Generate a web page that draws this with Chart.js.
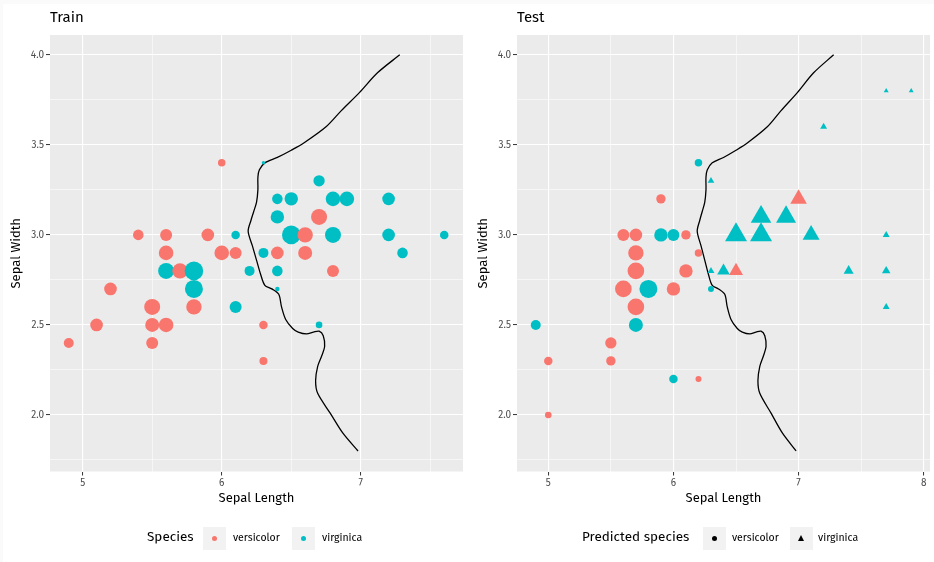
<!DOCTYPE html>
<html>
<head>
<meta charset="utf-8">
<script src="https://cdn.jsdelivr.net/npm/chart.js@4.4.1/dist/chart.umd.min.js"></script>
<style>
  body { margin: 0; background: #fafafa; font-family: "Fira Sans", "Open Sans", sans-serif; }
  #sheet { position: absolute; left: 3px; top: 4px; width: 931px; height: 558px; background: #fff; }
  canvas { position: absolute; top: 0; }
  .lg { position: absolute; white-space: nowrap; color: #000; line-height: 1; }
  .lg-title { font-size: 13.5px; }
  .lg-label { font-size: 10.5px; }
  .key { position: absolute; width: 23px; height: 23px; background: #f2f2f2; top: 527px; }
  .dot { position: absolute; left: 9px; top: 9px; width: 5px; height: 5px; border-radius: 50%; }
  .tri { position: absolute; left: 8px; top: 8px; width: 0; height: 0;
         border-left: 3.5px solid transparent; border-right: 3.5px solid transparent; border-bottom: 6px solid #000; }
</style>
</head>
<body>
<div id="sheet"></div>
<canvas id="train" width="467" height="562" style="left:0"></canvas>
<canvas id="test" width="467" height="562" style="left:467px"></canvas>

<div class="lg lg-title" style="left:147px;top:530px">Species</div>
<div class="key" style="left:203px"><div class="dot" style="background:#F8766D"></div></div>
<div class="lg lg-label" style="left:233px;top:533px">versicolor</div>
<div class="key" style="left:292px"><div class="dot" style="background:#00BFC4"></div></div>
<div class="lg lg-label" style="left:322px;top:533px">virginica</div>

<div class="lg lg-title" style="left:582px;top:530px">Predicted species</div>
<div class="key" style="left:703px"><div class="dot" style="background:#000"></div></div>
<div class="lg lg-label" style="left:732px;top:533px">versicolor</div>
<div class="key" style="left:790px"><div class="tri"></div></div>
<div class="lg lg-label" style="left:818px;top:533px">virginica</div>

<script>
// training set: sepal length / width, true species, point weight
var trainX = [6.0, 6.3, 6.7, 6.4, 6.5, 6.8, 6.9, 7.2, 6.4, 6.7, 5.4, 5.6, 5.9, 6.1, 6.5, 6.6, 6.8, 7.2, 7.6,
              5.6, 6.0, 6.1, 6.3, 6.4, 6.6, 7.3, 5.6, 5.7, 5.8, 6.2, 6.4, 6.8, 5.2, 5.8, 6.4, 5.5, 5.8, 6.1,
              5.1, 5.5, 5.6, 6.3, 6.7, 4.9, 5.5, 6.3];
var trainY = [3.4, 3.4, 3.3, 3.2, 3.2, 3.2, 3.2, 3.2, 3.1, 3.1, 3.0, 3.0, 3.0, 3.0, 3.0, 3.0, 3.0, 3.0, 3.0,
              2.9, 2.9, 2.9, 2.9, 2.9, 2.9, 2.9, 2.8, 2.8, 2.8, 2.8, 2.8, 2.8, 2.7, 2.7, 2.7, 2.6, 2.6, 2.6,
              2.5, 2.5, 2.5, 2.5, 2.5, 2.4, 2.4, 2.3];
var trainSpecies = ['versicolor', 'virginica', 'virginica', 'virginica', 'virginica', 'virginica', 'virginica',
                    'virginica', 'virginica', 'versicolor', 'versicolor', 'versicolor', 'versicolor', 'virginica',
                    'virginica', 'versicolor', 'virginica', 'virginica', 'virginica', 'versicolor', 'versicolor',
                    'versicolor', 'virginica', 'versicolor', 'versicolor', 'virginica', 'virginica', 'versicolor',
                    'virginica', 'virginica', 'virginica', 'versicolor', 'versicolor', 'virginica', 'virginica',
                    'versicolor', 'versicolor', 'virginica', 'versicolor', 'versicolor', 'versicolor', 'versicolor',
                    'virginica', 'versicolor', 'versicolor', 'versicolor'];
var trainWeight = [0.14, 0.03, 0.32, 0.28, 0.45, 0.53, 0.53, 0.40, 0.45, 0.64, 0.28, 0.36, 0.40, 0.18, 0.86,
                   0.59, 0.64, 0.40, 0.18, 0.53, 0.53, 0.36, 0.25, 0.40, 0.49, 0.28, 0.64, 0.59, 0.86, 0.25,
                   0.28, 0.36, 0.40, 0.81, 0.05, 0.64, 0.59, 0.36, 0.40, 0.49, 0.53, 0.18, 0.11, 0.25, 0.36,
                   0.16];

// test set: also the predicted species
var testX = [6.2, 5.9, 5.6, 5.7, 5.9, 6.0, 6.1, 5.7, 6.2, 5.7, 6.1, 5.6, 5.8, 6.0, 6.3, 5.7, 4.9, 5.7, 5.5,
             5.0, 5.5, 6.0, 6.2, 5.0,
             7.7, 7.9, 7.2, 6.3, 7.0, 6.7, 6.9, 6.5, 6.7, 7.1, 7.7, 6.3, 6.4, 6.5, 7.4, 7.7, 7.7];
var testY = [3.4, 3.2, 3.0, 3.0, 3.0, 3.0, 3.0, 2.9, 2.9, 2.8, 2.8, 2.7, 2.7, 2.7, 2.7, 2.6, 2.5, 2.5, 2.4,
             2.3, 2.3, 2.2, 2.2, 2.0,
             3.8, 3.8, 3.6, 3.3, 3.2, 3.1, 3.1, 3.0, 3.0, 3.0, 3.0, 2.8, 2.8, 2.8, 2.8, 2.8, 2.6];
var testSpecies = ['virginica', 'versicolor', 'versicolor', 'versicolor', 'virginica', 'virginica', 'versicolor',
                   'versicolor', 'versicolor', 'versicolor', 'versicolor', 'versicolor', 'virginica', 'versicolor',
                   'virginica', 'versicolor', 'virginica', 'virginica', 'versicolor', 'versicolor', 'versicolor',
                   'virginica', 'versicolor', 'versicolor',
                   'virginica', 'virginica', 'virginica', 'virginica', 'versicolor', 'virginica', 'virginica',
                   'virginica', 'virginica', 'virginica', 'virginica', 'virginica', 'virginica', 'versicolor',
                   'virginica', 'virginica', 'virginica'];
var testPredicted = ['versicolor', 'versicolor', 'versicolor', 'versicolor', 'versicolor', 'versicolor',
                     'versicolor', 'versicolor', 'versicolor', 'versicolor', 'versicolor', 'versicolor',
                     'versicolor', 'versicolor', 'versicolor', 'versicolor', 'versicolor', 'versicolor',
                     'versicolor', 'versicolor', 'versicolor', 'versicolor', 'versicolor', 'versicolor',
                     'virginica', 'virginica', 'virginica', 'virginica', 'virginica', 'virginica', 'virginica',
                     'virginica', 'virginica', 'virginica', 'virginica', 'virginica', 'virginica', 'virginica',
                     'virginica', 'virginica', 'virginica'];
var testWeight = [0.14, 0.22, 0.36, 0.40, 0.45, 0.36, 0.22, 0.59, 0.14, 0.69, 0.45, 0.69, 0.81, 0.45, 0.09,
                  0.69, 0.25, 0.49, 0.32, 0.18, 0.22, 0.18, 0.09, 0.11,
                  0.06, 0.06, 0.12, 0.11, 0.69, 1.06, 1.00, 1.21, 1.21, 0.72, 0.12, 0.12, 0.40, 0.49, 0.25,
                  0.18, 0.12];

// decision boundary, bottom to top
var boundaryX = [6.98, 6.87, 6.78, 6.69, 6.675, 6.69, 6.72, 6.74, 6.73, 6.70, 6.66, 6.61, 6.55, 6.51, 6.46, 6.43,
                 6.41, 6.36, 6.31, 6.28, 6.25, 6.22, 6.19, 6.21, 6.23, 6.25, 6.26, 6.26, 6.27, 6.31, 6.40, 6.50,
                 6.59, 6.75, 6.86, 6.99, 7.12, 7.28];
var boundaryY = [1.80, 1.90, 2.01, 2.12, 2.19, 2.27, 2.33, 2.38, 2.44, 2.465, 2.46, 2.45, 2.46, 2.48, 2.53, 2.60,
                 2.67, 2.70, 2.72, 2.78, 2.86, 2.94, 3.02, 3.08, 3.13, 3.18, 3.25, 3.32, 3.36, 3.40, 3.43, 3.47,
                 3.51, 3.60, 3.69, 3.79, 3.90, 4.00];

var yTicks = [1.75, 2.0, 2.25, 2.5, 2.75, 3.0, 3.25, 3.5, 3.75, 4.0];
var trainXTicks = [5, 5.5, 6, 6.5, 7, 7.5];
var testXTicks = [5, 5.5, 6, 6.5, 7, 7.5, 8];

var colours = { versicolor: '#F8766D', virginica: '#00BFC4' };
var FONT = '"Fira Sans", "Open Sans", sans-serif';

var isMajor = function(v, step) { return Math.abs(v / step - Math.round(v / step)) < 1e-6; };

var panelBg = {
  id: 'panelBg',
  beforeDraw: function(chart) {
    var a = chart.chartArea, ctx = chart.ctx;
    ctx.save();
    ctx.fillStyle = '#EBEBEB';
    ctx.fillRect(a.left, a.top, a.right - a.left, a.bottom - a.top);
    ctx.restore();
  }
};

function axis(ticks, step, min, max, title, isX) {
  return {
    type: 'linear',
    min: min,
    max: max,
    afterBuildTicks: function(s) { s.ticks = ticks.map(function(v) { return { value: v }; }); },
    afterFit: function(s) {
      // fixed axis band, no extra room for overhanging labels
      if (isX) s.height = 34.3; else s.width = 50;
      s.paddingLeft = s.paddingRight = s.paddingTop = s.paddingBottom = 0;
    },
    border: { display: false },
    grid: {
      color: '#ffffff',
      lineWidth: function(c) { return c.tick && isMajor(c.tick.value, step) ? 1.1 : 0.55; },
      tickColor: function(c) { return c.tick && isMajor(c.tick.value, step) ? '#333333' : 'rgba(0,0,0,0)'; },
      tickLength: 4,
      tickWidth: 1
    },
    ticks: {
      autoSkip: false,
      maxRotation: 0,
      padding: 2,
      color: '#4D4D4D',
      font: { family: FONT, size: 10 },
      callback: function(v) {
        if (!isMajor(v, step)) return '';
        return isX ? String(v) : v.toFixed(1);
      }
    },
    title: {
      display: true,
      text: title,
      color: '#000000',
      font: { family: FONT, size: 13 },
      padding: isX ? { top: 0, bottom: 0 } : { top: 9, bottom: 0 }
    }
  };
}

function radius(w) { return 10 * Math.sqrt(w); }

function boundary() {
  return {
    type: 'line',
    data: boundaryX.map(function(x, i) { return { x: x, y: boundaryY[i] }; }),
    borderColor: '#000000',
    borderWidth: 1.3,
    pointRadius: 0,
    tension: 0.3,
    fill: false
  };
}

function panel(id, titleText, xMin, xMax, xTicks, datasets) {
  return new Chart(document.getElementById(id), {
    type: 'scatter',
    data: { datasets: datasets },
    options: {
      responsive: false,
      animation: false,
      devicePixelRatio: 1,
      layout: { autoPadding: false, padding: { left: 0, top: 0, right: 4, bottom: 56.2 } },
      plugins: {
        legend: { display: false },
        tooltip: { enabled: false },
        title: {
          display: true,
          text: titleText,
          align: 'start',
          fullSize: false,
          color: '#000000',
          font: { family: FONT, size: 15, weight: 'normal' },
          padding: { top: 9, bottom: 8 }
        }
      },
      scales: {
        x: axis(xTicks, 1, xMin, xMax, 'Sepal Length', true),
        y: axis(yTicks, 0.5, 1.686, 4.110, 'Sepal Width', false)
      }
    },
    plugins: [panelBg]
  });
}

panel('train', 'Train', 4.765, 7.735, trainXTicks, [
  {
    data: trainX.map(function(x, i) { return { x: x, y: trainY[i] }; }),
    backgroundColor: trainSpecies.map(function(s) { return colours[s]; }),
    borderWidth: 0,
    pointStyle: 'circle',
    pointRadius: trainWeight.map(radius)
  },
  boundary()
]);

panel('test', 'Test', 4.75, 8.05, testXTicks, [
  {
    data: testX.map(function(x, i) { return { x: x, y: testY[i] }; }),
    backgroundColor: testSpecies.map(function(s) { return colours[s]; }),
    borderWidth: 0,
    pointStyle: testPredicted.map(function(p) { return p === 'virginica' ? 'triangle' : 'circle'; }),
    pointRadius: testWeight.map(function(w, i) {
      return testPredicted[i] === 'virginica' ? radius(w) * 1.155 : radius(w);
    })
  },
  boundary()
]);
</script>
</body>
</html>
